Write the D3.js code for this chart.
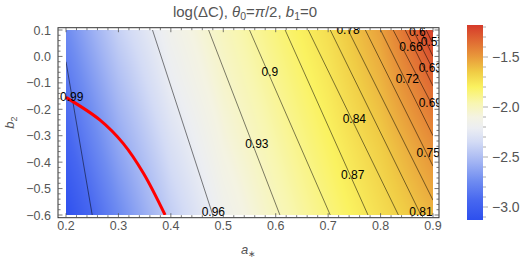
<!DOCTYPE html>
<html><head><meta charset="utf-8">
<script src="https://cdn.jsdelivr.net/npm/d3@7"></script>
<style>body{margin:0;background:#fff}svg{display:block}</style>
</head><body>
<script>
// ---- data ----
const aStar = [0.2, 0.3, 0.4, 0.5, 0.6, 0.7, 0.8, 0.9];
const b2Rows = [0.1, -0.1, -0.35, -0.6];
const logDC = [
  [-2.75, -2.40, -2.16, -2.00, -1.86, -1.72, -1.52, -1.20],
  [-2.85, -2.50, -2.22, -2.04, -1.90, -1.76, -1.58, -1.33],
  [-2.98, -2.62, -2.32, -2.10, -1.95, -1.81, -1.66, -1.47],
  [-3.12, -2.75, -2.42, -2.17, -2.00, -1.86, -1.72, -1.58]
];
const contourLevels = ["0.99","0.96","0.93","0.9","0.87","0.84","0.81","0.78","0.75","0.72","0.69","0.66","0.63","0.6","0.57"];
const contourLines = [
  [[0.2, -0.02], [0.25, -0.6]],
  [[0.365, 0.1], [0.48, -0.6]],
  [[0.472, 0.1], [0.608, -0.6]],
  [[0.55, 0.1], [0.704, -0.6]],
  [[0.618, 0.1], [0.776, -0.6]],
  [[0.662, 0.1], [0.834, -0.6]],
  [[0.704, 0.1], [0.877, -0.6]],
  [[0.738, 0.1], [0.9, -0.544]],
  [[0.771, 0.1], [0.9, -0.415]],
  [[0.80, 0.1], [0.9, -0.30]],
  [[0.824, 0.1], [0.9, -0.19]],
  [[0.847, 0.1], [0.9, -0.112]],
  [[0.862, 0.1], [0.9, -0.05]],
  [[0.876, 0.1], [0.9, 0.0]],
  [[0.887, 0.1], [0.9, 0.047]]
];
const labelPos = [
  [0.211, -0.152], [0.481, -0.588], [0.564, -0.329], [0.589, -0.058],
  [0.747, -0.449], [0.750, -0.234], [0.877, -0.588], [0.738, 0.1],
  [0.891, -0.366], [0.851, -0.086], [0.895, -0.176], [0.858, 0.037],
  [0.895, -0.044], [0.870, 0.094], [0.899, 0.056]
];
const redCurve = [[0.2, -0.155], [0.265, -0.241], [0.309, -0.329], [0.348, -0.443], [0.389, -0.6]];
const xTicks = [0.2, 0.3, 0.4, 0.5, 0.6, 0.7, 0.8, 0.9];
const yTicks = [0.1, 0.0, -0.1, -0.2, -0.3, -0.4, -0.5, -0.6];
const colorTicks = [-1.5, -2.0, -2.5, -3.0];
const colorRange = [-3.13, -1.18];
const cmapValues = [-3.13, -2.935, -2.74, -2.545, -2.35, -2.21, -2.10, -1.96, -1.80, -1.65, -1.49, -1.34, -1.18];
const cmapColors = ["#2d4fee", "#4767f0", "#6f8cf1", "#a3b5f3", "#d3dbf5", "#eceef2", "#f4f3e2", "#f8f6b0", "#faf260", "#f0cc45", "#e8973a", "#e06a33", "#d63a2a"];

// ---- layout ----
const W = 529, H = 264;
const x = d3.scaleLinear().domain([0.2, 0.9]).range([66, 433]);
const y = d3.scaleLinear().domain([-0.6, 0.1]).range([215, 30]);
const frame = {l: 58, r: 439, t: 27.7, b: 217.7};
const color = d3.scaleLinear().domain(cmapValues).range(cmapColors).interpolate(d3.interpolateRgb).clamp(true);
const font = "'Liberation Sans', Arial, sans-serif";

const svg = d3.select("body").append("svg").attr("width", W).attr("height", H);
const defs = svg.append("defs");
defs.append("clipPath").attr("id", "dataClip").append("rect")
  .attr("x", x(0.2)).attr("y", y(0.1)).attr("width", x(0.9) - x(0.2)).attr("height", y(-0.6) - y(0.1));
defs.append("clipPath").attr("id", "frameClip").append("rect")
  .attr("x", frame.l).attr("y", frame.t).attr("width", frame.r - frame.l).attr("height", frame.b - frame.t);

// ---- heat map from the value grid ----
const colIdx = d3.scaleLinear().domain(aStar).range(d3.range(aStar.length)).clamp(true);
const rowIdx = d3.scaleLinear().domain(b2Rows).range(d3.range(b2Rows.length)).clamp(true);
function valueAt(a, b) {
  const ci = colIdx(a), ri = rowIdx(b);
  const c0 = Math.min(Math.floor(ci), aStar.length - 2), r0 = Math.min(Math.floor(ri), b2Rows.length - 2);
  const fc = ci - c0, fr = ri - r0;
  const v00 = logDC[r0][c0], v01 = logDC[r0][c0 + 1], v10 = logDC[r0 + 1][c0], v11 = logDC[r0 + 1][c0 + 1];
  return (v00 * (1 - fc) + v01 * fc) * (1 - fr) + (v10 * (1 - fc) + v11 * fc) * fr;
}
const pw = Math.round(x(0.9) - x(0.2)), ph = Math.round(y(-0.6) - y(0.1));
const cv = document.createElement("canvas");
cv.width = pw; cv.height = ph;
const ctx = cv.getContext("2d");
const img = ctx.createImageData(pw, ph);
for (let j = 0; j < ph; j++) {
  const b = y.invert(y(0.1) + j + 0.5);
  for (let i = 0; i < pw; i++) {
    const a = x.invert(x(0.2) + i + 0.5);
    const c = d3.rgb(color(valueAt(a, b)));
    const k = (j * pw + i) * 4;
    img.data[k] = c.r; img.data[k + 1] = c.g; img.data[k + 2] = c.b; img.data[k + 3] = 255;
  }
}
ctx.putImageData(img, 0, 0);
svg.append("image").attr("href", cv.toDataURL()).attr("x", x(0.2)).attr("y", y(0.1))
  .attr("width", pw).attr("height", ph).attr("preserveAspectRatio", "none");

// ---- contour lines ----
const line = d3.line().x(d => x(d[0])).y(d => y(d[1]));
const gc = svg.append("g").attr("clip-path", "url(#dataClip)");
gc.selectAll("path.c").data(contourLines).join("path").attr("class", "c")
  .attr("d", line).attr("fill", "none").attr("stroke", "rgba(0,0,0,0.5)").attr("stroke-width", 1);

// red curve
gc.append("path").datum(redCurve).attr("d", line.curve(d3.curveCatmullRom))
  .attr("fill", "none").attr("stroke", "#ff0000").attr("stroke-width", 3);

// contour labels
svg.append("g").attr("clip-path", "url(#frameClip)").selectAll("text").data(contourLevels).join("text")
  .attr("x", (d, i) => x(labelPos[i][0])).attr("y", (d, i) => y(labelPos[i][1]))
  .attr("text-anchor", "middle").attr("dy", "0.36em")
  .attr("font-family", font).attr("font-size", 12).attr("fill", "#000").text(d => d);

// ---- frame & ticks ----
svg.append("rect").attr("x", frame.l).attr("y", frame.t).attr("width", frame.r - frame.l).attr("height", frame.b - frame.t)
  .attr("fill", "none").attr("stroke", "#333").attr("stroke-width", 1);
const minorX = d3.range(0, 36).map(i => 0.2 + i * 0.02).filter(v => Math.abs(v * 10 - Math.round(v * 10)) > 1e-6);
const minorY = d3.range(0, 36).map(i => -0.6 + i * 0.02).filter(v => Math.abs(v * 10 - Math.round(v * 10)) > 1e-6);
const tk = svg.append("g").attr("stroke", "#555").attr("stroke-width", 0.8);
function vTicks(vals, len) {
  vals.forEach(v => {
    tk.append("line").attr("x1", x(v)).attr("x2", x(v)).attr("y1", frame.b).attr("y2", frame.b - len);
    tk.append("line").attr("x1", x(v)).attr("x2", x(v)).attr("y1", frame.t).attr("y2", frame.t + len);
  });
}
function hTicks(vals, len) {
  vals.forEach(v => {
    tk.append("line").attr("y1", y(v)).attr("y2", y(v)).attr("x1", frame.l).attr("x2", frame.l + len);
    tk.append("line").attr("y1", y(v)).attr("y2", y(v)).attr("x1", frame.r).attr("x2", frame.r - len);
  });
}
vTicks(xTicks, 4.5); vTicks(minorX, 2.5);
hTicks(yTicks, 4.5); hTicks(minorY, 2.5);

const fmt = d3.format(".1f");
const minus = s => s.replace("-", "\u2212");
svg.append("g").selectAll("text").data(xTicks).join("text")
  .attr("x", d => x(d)).attr("y", frame.b + 12).attr("text-anchor", "middle")
  .attr("font-family", font).attr("font-size", 12.5).attr("fill", "#555").text(d => fmt(d));
svg.append("g").selectAll("text").data(yTicks).join("text")
  .attr("x", frame.l - 7).attr("y", d => y(d) + 4.5).attr("text-anchor", "end")
  .attr("font-family", font).attr("font-size", 12.5).attr("fill", "#555").text(d => minus(fmt(d)));

// axis labels
const yl = svg.append("text").attr("transform", `translate(14,${(frame.t + frame.b) / 2}) rotate(-90)`)
  .attr("text-anchor", "middle").attr("font-family", font).attr("font-size", 13).attr("fill", "#555");
yl.append("tspan").attr("font-style", "italic").text("b");
yl.append("tspan").attr("font-size", 9).attr("dy", 3).text("2");
const xl = svg.append("text").attr("x", (frame.l + frame.r) / 2).attr("y", 254)
  .attr("text-anchor", "middle").attr("font-family", font).attr("font-size", 13).attr("fill", "#555");
xl.append("tspan").attr("font-style", "italic").text("a");
xl.append("tspan").attr("font-size", 9).attr("dy", 3).text("\u2217");

// title
const tt = svg.append("text").attr("x", 245).attr("y", 17).attr("text-anchor", "middle")
  .attr("font-family", font).attr("font-size", 15).attr("fill", "#555");
tt.append("tspan").text("log(\u0394C), ");
tt.append("tspan").attr("font-style", "italic").text("\u03b8");
tt.append("tspan").attr("font-size", 10.5).attr("dy", 3).text("0");
tt.append("tspan").attr("dy", -3).text("=");
tt.append("tspan").attr("font-style", "italic").text("\u03c0");
tt.append("tspan").text("/2, ");
tt.append("tspan").attr("font-style", "italic").text("b");
tt.append("tspan").attr("font-size", 10.5).attr("dy", 3).text("1");
tt.append("tspan").attr("dy", -3).text("=0");

// ---- colour bar ----
const cy = d3.scaleLinear().domain(colorRange).range([220, 25]);
const grad = defs.append("linearGradient").attr("id", "cbar").attr("x1", 0).attr("y1", 1).attr("x2", 0).attr("y2", 0);
cmapValues.forEach(v => grad.append("stop")
  .attr("offset", (v - colorRange[0]) / (colorRange[1] - colorRange[0])).attr("stop-color", color(v)));
svg.append("rect").attr("x", 467).attr("y", cy(colorRange[1])).attr("width", 16)
  .attr("height", cy(colorRange[0]) - cy(colorRange[1])).attr("fill", "url(#cbar)");
const cMinor = d3.range(-31, -11).map(i => i / 10).filter(v => !colorTicks.some(t => Math.abs(t - v) < 1e-6));
const cg = svg.append("g").attr("stroke", "#999").attr("stroke-width", 0.8);
cMinor.forEach(v => cg.append("line").attr("x1", 483).attr("x2", 486).attr("y1", cy(v)).attr("y2", cy(v)));
colorTicks.forEach(v => cg.append("line").attr("x1", 483).attr("x2", 488).attr("y1", cy(v)).attr("y2", cy(v)));
svg.append("g").selectAll("text").data(colorTicks).join("text")
  .attr("x", 492).attr("y", d => cy(d) + 5).attr("font-family", font).attr("font-size", 14)
  .attr("fill", "#555").text(d => minus(fmt(d)));
</script>
</body></html>
